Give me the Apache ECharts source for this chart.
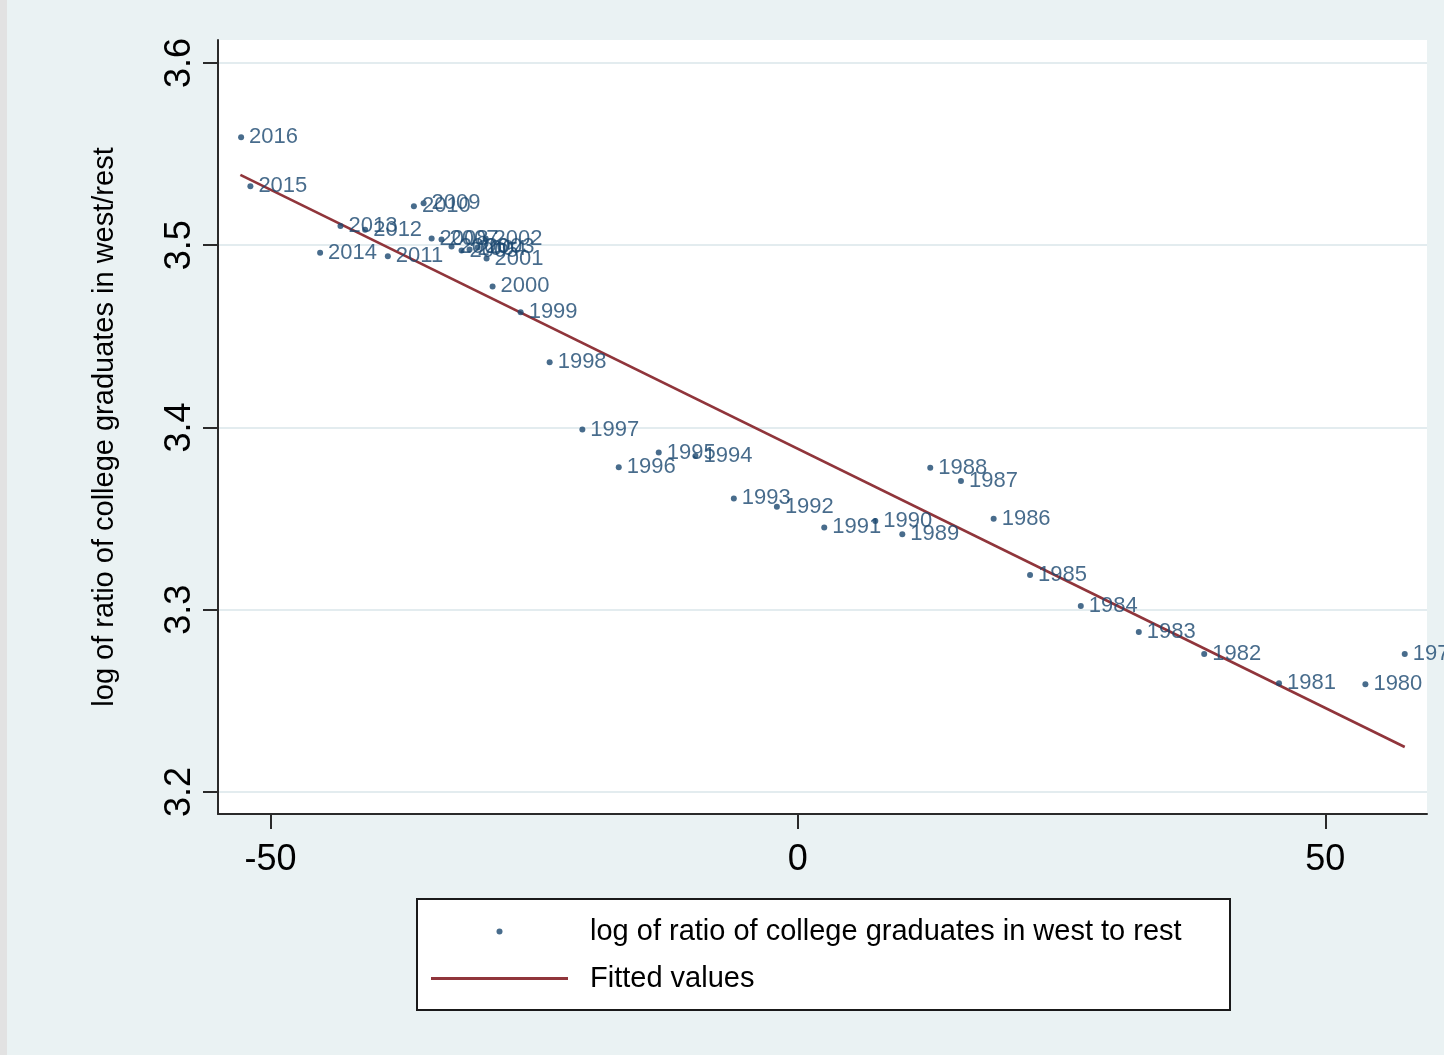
<!DOCTYPE html>
<html>
<head>
<meta charset="utf-8">
<script src="https://cdn.jsdelivr.net/npm/echarts@6/dist/echarts.min.js"></script>
<style>
html,body{margin:0;padding:0;background:#eaf2f3;}
#chart{width:1444px;height:1055px;}
</style>
</head>
<body>
<div id="chart"></div>
<script>
var years = [2016, 2015, 2014, 2013, 2012, 2011, 2010, 2009, 2008, 2007, 2006, 2005, 2004, 2003, 2002, 2001, 2000, 1999, 1998, 1997, 1996, 1995, 1994, 1993, 1992, 1991, 1990, 1989, 1988, 1987, 1986, 1985, 1984, 1983, 1982, 1981, 1980, 1979];
var xVals = [-52.78, -51.90, -45.29, -43.36, -41.02, -38.87, -36.40, -35.48, -34.72, -33.78, -32.83, -31.88, -31.12, -30.36, -29.60, -29.51, -28.94, -26.28, -23.53, -20.43, -16.98, -13.19, -9.71, -6.07, -1.99, 2.50, 7.34, 9.90, 12.55, 15.46, 18.56, 22.01, 26.82, 32.32, 38.52, 45.61, 53.80, 57.53];
var yVals = [3.5592, 3.5324, 3.4959, 3.5105, 3.5085, 3.4940, 3.5214, 3.5231, 3.5037, 3.5032, 3.4993, 3.4971, 3.4977, 3.4988, 3.5037, 3.4927, 3.4774, 3.4632, 3.4358, 3.3989, 3.3782, 3.3863, 3.3844, 3.3611, 3.3565, 3.3452, 3.3487, 3.3414, 3.3779, 3.3706, 3.3499, 3.3191, 3.3021, 3.2878, 3.2758, 3.2597, 3.2592, 3.2758];
var fitX = [-52.85, 57.53];
var fitY = [3.5386, 3.2247];
var xTicks = [-50, 0, 50];
var yTicks = [3.2, 3.3, 3.4, 3.5, 3.6];
var scatterName = 'log of ratio of college graduates in west to rest';
var fitName = 'Fitted values';
var yTitle = 'log of ratio of college graduates in west/rest';

var scatterData = years.map(function (yr, i) { return [xVals[i], yVals[i], yr]; });
var fitData = fitX.map(function (x, i) { return [x, fitY[i]]; });

var FONT = '"Liberation Sans", Arial, sans-serif';
var chart = echarts.init(document.getElementById('chart'), null, {renderer: 'canvas'});
chart.setOption({
  backgroundColor: '#eaf2f3',
  animation: false,
  textStyle: {fontFamily: FONT},
  grid: {
    left: 218, right: 17, top: 40, bottom: 241,
    show: true, backgroundColor: '#ffffff', borderWidth: 0,
    containLabel: false
  },
  xAxis: {
    type: 'value',
    min: -54.97, max: 59.64,
    axisLine: {show: true, onZero: false, lineStyle: {color: '#2a2a2a', width: 2}},
    axisTick: {show: true, length: 15, customValues: xTicks, lineStyle: {color: '#2a2a2a', width: 2}},
    axisLabel: {customValues: xTicks, color: '#000', fontSize: 36, fontFamily: FONT, margin: 28},
    splitLine: {show: false}
  },
  yAxis: {
    type: 'value',
    min: 3.18795, max: 3.6126,
    name: yTitle,
    nameLocation: 'middle',
    nameGap: 99,
    nameRotate: 90,
    nameTextStyle: {color: '#000', fontSize: 29, fontFamily: FONT},
    axisLine: {show: true, onZero: false, lineStyle: {color: '#2a2a2a', width: 2}},
    axisTick: {show: true, length: 15, customValues: yTicks, lineStyle: {color: '#2a2a2a', width: 2}},
    axisLabel: {customValues: yTicks, rotate: 90, color: '#000', fontSize: 36, fontFamily: FONT, margin: 20,
      formatter: function (v) { return v.toFixed(1); }},
    splitLine: {show: true, lineStyle: {color: '#e3ecef', width: 2}}
  },
  legend: {
    orient: 'vertical',
    left: 426, top: 912,
    itemWidth: 137, itemHeight: 6,
    itemGap: 18,
    z: 10,
    textStyle: {color: '#000', fontSize: 29, lineHeight: 29, fontFamily: FONT, padding: [0, 0, 0, 17]},
    data: [
      {name: scatterName, icon: 'circle'},
      {name: fitName, icon: 'path://M0,0 L137,0 L137,3 L0,3 Z', itemStyle: {color: '#90353b'}}
    ]
  },
  graphic: [
    {type: 'rect', left: 0, top: 0, z: 0, shape: {width: 7, height: 1055}, style: {fill: '#e2e2e2'}},
    {type: 'rect', left: 416, top: 898, z: 0, shape: {width: 813, height: 111}, style: {fill: '#ffffff', stroke: '#1a1a1a', lineWidth: 2}}
  ],
  series: [
    {
      name: scatterName,
      type: 'scatter',
      data: scatterData,
      symbol: 'circle',
      symbolSize: 6,
      itemStyle: {color: '#1a476f'},
      label: {
        show: true, position: 'right', distance: 5,
        color: '#1a476f', fontSize: 22, fontFamily: FONT,
        formatter: function (p) { return String(p.value[2]); }
      },
      labelLayout: {hideOverlap: false},
      z: 3
    },
    {
      name: fitName,
      type: 'line',
      data: fitData,
      symbol: 'none',
      showSymbol: false,
      lineStyle: {color: '#90353b', width: 2.7},
      itemStyle: {color: '#90353b'},
      z: 2
    }
  ]
});
</script>
</body>
</html>
